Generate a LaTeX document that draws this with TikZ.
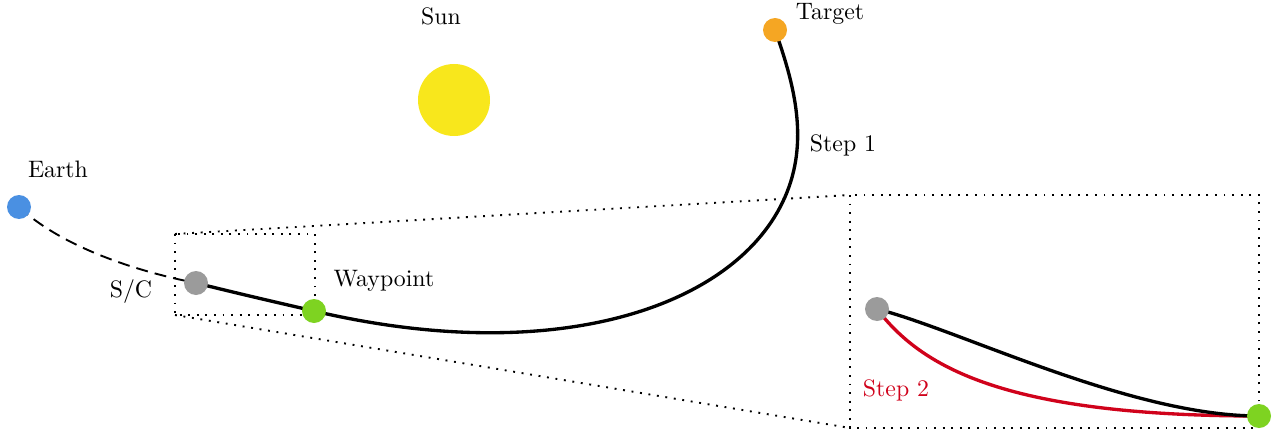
\documentclass[tikz,border=0pt]{standalone}
\usetikzlibrary{calc}
\definecolor{earthblue}{HTML}{4A90E2}
\definecolor{sunyellow}{HTML}{F8E71C}
\definecolor{targetorange}{HTML}{F5A623}
\definecolor{scgray}{HTML}{9B9B9B}
\definecolor{wpgreen}{HTML}{7ED321}
\definecolor{stepred}{HTML}{D0021B}
\begin{document}
\begin{tikzpicture}[x=0.42pt,y=-0.42pt,
  body/.style={circle,inner sep=0pt,minimum size=10pt,draw=none},
  lbl/.style={inner sep=0pt,font=\normalsize},
  traj/.style={line width=1.4pt},
  zoomline/.style={line width=0.8pt,dash pattern=on 0.8pt off 2.8pt},
  transfer/.style={line width=0.8pt,dash pattern=on 5pt off 3pt}]
\useasboundingbox (0,0) rectangle (1277,432);
% zoom frames
\coordinate (s1) at (175,234);
\coordinate (s2) at (315,315);
\coordinate (b1) at (850,195);
\coordinate (b2) at (1259,428);
\draw[zoomline] (s1) rectangle (s2);
\draw[zoomline] (b1) rectangle (b2);
\draw[zoomline] (s1) -- (b1);
\draw[zoomline] (s1 |- s2) -- (b1 |- b2);
% bodies positions
\coordinate (E) at (19,207);
\coordinate (S) at (196,283);
\coordinate (W) at (314,311);
\coordinate (T) at (775,30);
\coordinate (P) at (785,197);
\coordinate (S2) at (877,309);
\coordinate (W2) at (1259,416);
% trajectories
\draw[transfer] (E) .. controls (60,245) and (130,270) .. (S);
\draw[traj] (S) .. controls (236,293) and (275,302) .. (W)
  .. controls (556,368) and (737,307) .. (P)
  .. controls (809,142) and (795,86) .. (T);
\draw[traj,stepred] (S2) .. controls (920,365) and (1000,416) .. (W2);
\draw[traj] (S2) .. controls (960,330) and (1130,416) .. (W2);
% bodies
\node[body,fill=earthblue,minimum size=24*0.42pt] (earth) at (E) {};
\node[body,fill=sunyellow,minimum size=72*0.42pt] (sun) at (454,100) {};
\node[body,fill=targetorange,minimum size=24*0.42pt] (target) at (T) {};
\node[body,fill=scgray,minimum size=24*0.42pt] (sc) at (S) {};
\node[body,fill=wpgreen,minimum size=24*0.42pt] (wp) at (W) {};
\node[body,fill=scgray,minimum size=24*0.42pt] (sc2) at (S2) {};
\node[body,fill=wpgreen,minimum size=24*0.42pt] (wp2) at (W2) {};
% labels
\node[lbl] (lEarth) at (58,169) {Earth};
\node[lbl] (lSun) at (441,16) {Sun};
\node[lbl] (lTarget) at (830,14) {Target};
\node[lbl] (lSC) at (131,292) {S/C};
\node[lbl] (lWp) at (384,281) {Waypoint};
\node[lbl] (lStep1) at (843,145) {Step 1};
\node[lbl,text=stepred] (lStep2) at (896,390) {Step 2};
\end{tikzpicture}
\end{document}
